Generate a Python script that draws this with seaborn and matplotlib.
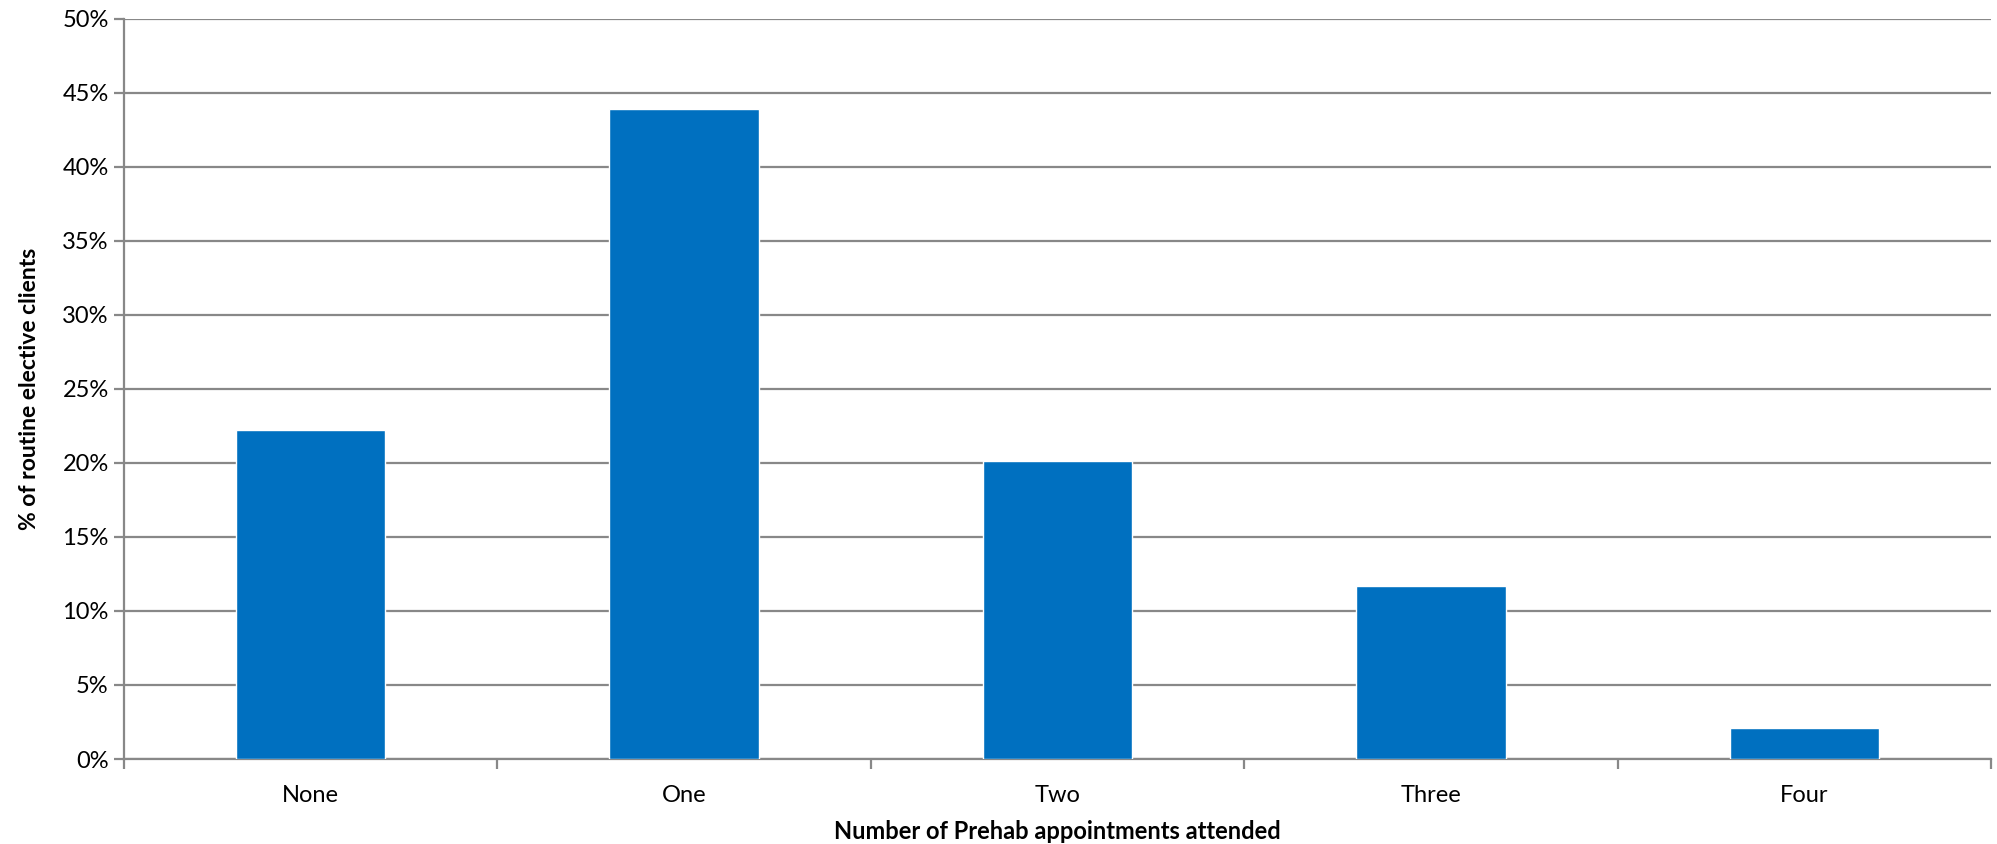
import matplotlib
matplotlib.use("Agg")
import matplotlib.pyplot as plt
import seaborn as sns
import pandas as pd
from matplotlib.ticker import PercentFormatter, FixedLocator

categories = ["None", "One", "Two", "Three", "Four"]
values = [22.2, 43.9, 20.1, 11.7, 2.1]
y_ticks = [0, 5, 10, 15, 20, 25, 30, 35, 40, 45, 50]

sns.set_theme(style="white")
plt.rcParams['font.family'] = ['Lato', 'DejaVu Sans']

df = pd.DataFrame({"cat": categories, "val": values})

fig = plt.figure(figsize=(19.97, 8.44), dpi=100)
ax = fig.add_axes([0.0621, 0.1007, 0.935, 0.877])

grid_c = "#888888"
sns.barplot(data=df, x="cat", y="val", order=categories, color="#0070C0",
            width=0.4, saturation=1, ax=ax, zorder=3)

ax.set_ylim(0, 50)
ax.set_xlim(-0.5, len(categories) - 0.5)
ax.yaxis.set_major_locator(FixedLocator(y_ticks))
ax.yaxis.set_major_formatter(PercentFormatter(decimals=0))
ax.yaxis.grid(True, color=grid_c, linewidth=1.6, zorder=0)
ax.set_axisbelow(True)

for s in ["top", "right"]:
    ax.spines[s].set_visible(False)
for s in ["left", "bottom"]:
    ax.spines[s].set_color(grid_c)
    ax.spines[s].set_linewidth(1.6)

ax.tick_params(axis="y", which="major", left=True, length=7, width=1.6,
               color=grid_c, labelsize=17, labelcolor="#000000", pad=4)
ax.tick_params(axis="x", which="major", bottom=False, labelsize=17,
               labelcolor="#000000", pad=13)
ax.set_xticks([i + 0.5 for i in range(-1, len(categories))], minor=True)
ax.tick_params(axis="x", which="minor", bottom=True, length=7, width=1.6,
               color=grid_c)

ax.set_xlabel("Number of Prehab appointments attended", fontsize=17,
              fontweight="bold", color="#000000", labelpad=10)
ax.set_ylabel("% of routine elective clients", fontsize=16.5,
              fontweight="bold", color="#000000", labelpad=16)

fig.savefig("out.png", dpi=100, facecolor="white")
